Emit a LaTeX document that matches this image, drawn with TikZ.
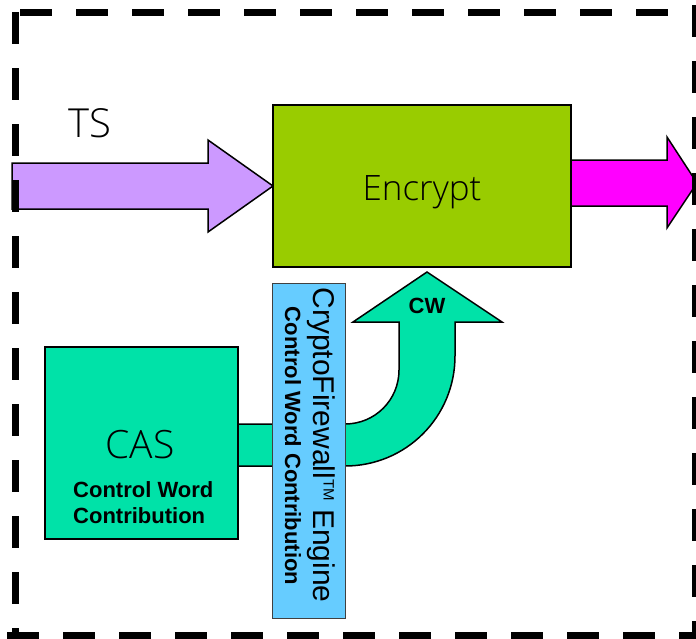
\documentclass[tikz,border=0pt]{standalone}
\usepackage{fontspec}
\setmainfont{Liberation Sans}
\newfontfamily\thinfont{Open Sans Light}
\usetikzlibrary{calc}
\definecolor{purp}{HTML}{CC99FF}
\definecolor{mag}{HTML}{FF00FF}
\definecolor{encg}{HTML}{99CC00}
\definecolor{aqua}{HTML}{00E2A8}
\definecolor{sky}{HTML}{66CCFF}
\pgfdeclarelayer{bg}
\pgfdeclarelayer{fg}
\pgfsetlayers{bg,main,fg}
\begin{document}
\begin{tikzpicture}[x=1pt,y=-1pt,
  blk/.style={draw=black, line width=1.5pt, line join=miter},
  boxn/.style={blk, outer sep=0pt, inner sep=0pt, anchor=north west},
  border/.style={line width=7pt, dash pattern=on 32pt off 24pt, line cap=butt},
  thin/.style={font=\thinfont\fontsize{#1}{#1}\selectfont, inner sep=0pt},
  bld/.style={font=\bfseries\fontsize{#1}{#1}\selectfont, inner sep=0pt}]
\clip (0,0) rectangle (696,638);

% boxes
\node[boxn, fill=encg, minimum width=298pt, minimum height=162pt] (enc) at (273,105) {};
\node[boxn, fill=aqua, minimum width=193pt, minimum height=192pt] (cas) at (45,347) {};
\node[boxn, fill=sky, draw=black!75, line width=1pt, minimum width=73pt, minimum height=335pt] (cfe) at (272,283) {};

% arrows
\begin{pgfonlayer}{bg}
\fill[white] (0,0) rectangle (696,638);
\draw[blk, fill=purp] ($(enc.west)+(-261,-23)$) -- ($(enc.west)+(-65,-23)$) -- ($(enc.west)+(-65,-46)$)
  -- (enc.west) -- ($(enc.west)+(-65,46)$) -- ($(enc.west)+(-65,23)$) -- ($(enc.west)+(-261,23)$) -- cycle;
\coordinate (magtip) at ($(enc.east)+(126,-3)$);
\draw[blk, fill=mag] ($(enc.east)+(0,-26)$) -- ($(enc.east)+(96,-26)$) -- ($(enc.east)+(96,-49)$)
  -- (magtip) -- ($(enc.east)+(96,42)$) -- ($(enc.east)+(96,20)$) -- ($(enc.east)+(0,20)$) -- cycle;
\coordinate (cwtip) at (427,272);
\draw[blk, fill=aqua] ($(cas.east)+(0,-19)$) -- (345,424) .. controls (375,424) and (399,400) .. (399,370)
  -- (399,322) -- (353,322) -- (cwtip) -- (502,322) -- (455,322) -- (455,356)
  .. controls (455,417) and (406,466) .. (345,466) -- ($(cas.east)+(0,23)$) -- cycle;
\end{pgfonlayer}

% texts
\node[thin=40, anchor=base west] (ts) at (68,137) {TS};
\node[thin=35, anchor=base] (enctxt) at (422,200) {Encrypt};
\node[thin=39, anchor=base] (castxt) at (140,458) {CAS};
\node[bld=22, anchor=base west] (cas1) at (73,497) {Control Word};
\node[bld=22, anchor=base west] (cas2) at (73,523) {Contribution};
\node[bld=22, anchor=base] (cw) at (427,313) {CW};
\node[rotate=-90, anchor=base, inner sep=0pt, font=\fontsize{30}{30}\selectfont] (cfe1) at (313,445)
  {CryptoFirewall\raisebox{10.7pt}{\fontsize{15}{15}\selectfont TM} Engine};
\node[rotate=-90, anchor=base, bld=22] (cfe2) at (285,446) {Control Word Contribution};

% dashed border
\begin{pgfonlayer}{fg}
\coordinate (tl) at (15.5,12);
\coordinate (br) at (695.5,635.5);
\draw[border] (tl -| 20,0) -- (720,12);
\draw[border] (tl) -- (15.5,660);
\draw[border] (7,635.5) -- (br) -- (720,635.5);
\draw[border] (695.5,5) -- (695.5,660);
\end{pgfonlayer}
\end{tikzpicture}
\end{document}
